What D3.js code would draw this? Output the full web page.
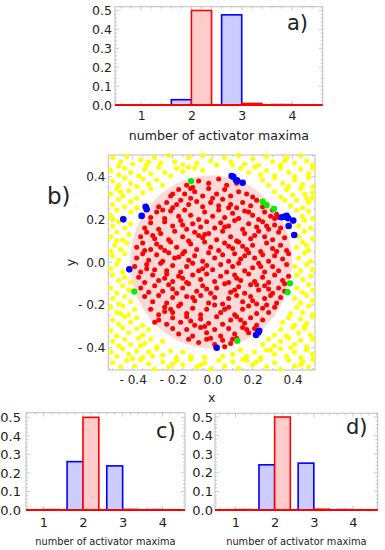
<!DOCTYPE html>
<html><head><meta charset="utf-8">
<script src="https://cdn.jsdelivr.net/npm/d3@7"></script>
<style>body{margin:0;background:#fff}svg text{font-family:"DejaVu Sans",sans-serif;fill:#222}</style>
</head><body><svg id="chart" width="385" height="550"></svg>
<script>
// ---------- DATA ----------
const categories = [1, 2, 3, 4];
const histYTicks = [0, 0.1, 0.2, 0.3, 0.4, 0.5];
const histA_blue = [0, 0.028, 0.477, 0.002];
const histA_red  = [0, 0.5, 0.008, 0];
const histC_blue = [0, 0.261, 0.238, 0.002];
const histC_red  = [0.002, 0.5, 0.003, 0];
const histD_blue = [0, 0.243, 0.252, 0.002];
const histD_red  = [0.002, 0.5, 0.004, 0];
const histXLabel = "number of activator maxima";
const scatterTicks = [-0.4, -0.2, 0, 0.2, 0.4];
const discCenter = [-0.008, 0.002];
const discRadius = 0.405;

const bluePts = [[0.095,0.404],[0.103,0.40],[0.117,0.385],[0.123,0.382],[0.15,0.372],
 [-0.335,0.26],[-0.33,0.248],[-0.355,0.217],[-0.447,0.201],[-0.417,-0.033],
 [0.345,0.211],[0.358,0.213],[0.37,0.217],[0.378,0.206],[0.403,0.195],[0.38,0.17],[0.408,0.128],
 [0.02,-0.40],[0.217,-0.34],[0.228,-0.329],[0.233,-0.32]];
const greenPts = [[-0.108,0.38],[0.25,0.284],[0.27,0.267],[0.307,0.25],[0.387,-0.098],[0.375,-0.14],[-0.392,-0.137],[0.123,-0.367]];

const redPts = [
[-0.13,0.36],[-0.07,0.38],[-0.02,0.37],[0.03,0.39],[0.07,0.36],[0.12,0.37],[-0.1,0.35],
[-0.21,0.31],[-0.17,0.34],[-0.14,0.32],[-0.09,0.33],[-0.05,0.31],[-0.02,0.345],[0.02,0.32],[0.06,0.34],[0.09,0.31],[0.13,0.33],[0.17,0.32],[0.2,0.305],[-0.11,0.3],
[-0.27,0.26],[-0.23,0.28],[-0.2,0.255],[-0.16,0.29],[-0.12,0.27],[-0.08,0.285],[-0.05,0.26],[-0.01,0.28],[0.03,0.265],[0.05,0.295],[0.09,0.27],[0.12,0.255],[0.15,0.28],[0.19,0.265],[0.22,0.29],[0.25,0.26],[-0.18,0.27],
[-0.31,0.21],[-0.28,0.235],[-0.24,0.205],[-0.21,0.24],[-0.17,0.215],[-0.14,0.245],[-0.11,0.22],[-0.07,0.2],[-0.04,0.235],[0.0,0.215],[0.03,0.245],[0.06,0.21],[0.1,0.23],[0.13,0.205],[0.16,0.24],[0.2,0.22],[0.23,0.2],[0.26,0.235],[0.29,0.215],[0.31,0.205],[0.33,0.21],[0.32,0.225],
[-0.34,0.16],[-0.31,0.185],[-0.27,0.155],[-0.24,0.19],[-0.2,0.17],[-0.16,0.195],[-0.13,0.155],[-0.1,0.18],[-0.06,0.165],[-0.03,0.19],[0.01,0.16],[0.04,0.185],[0.08,0.17],[0.11,0.195],[0.15,0.155],[0.18,0.18],[0.22,0.165],[0.25,0.19],[0.28,0.155],[0.31,0.175],[0.34,0.16],
[-0.36,0.12],[-0.33,0.14],[-0.29,0.11],[-0.26,0.135],[-0.22,0.105],[-0.19,0.145],[-0.15,0.12],[-0.12,0.1],[-0.09,0.14],[-0.05,0.115],[-0.02,0.135],[0.02,0.105],[0.05,0.145],[0.09,0.12],[0.12,0.1],[0.16,0.135],[0.19,0.11],[0.23,0.145],[0.26,0.12],[0.3,0.105],[0.33,0.14],[0.36,0.115],[-0.07,0.125],
[-0.38,0.07],[-0.35,0.09],[-0.31,0.06],[-0.28,0.085],[-0.24,0.055],[-0.21,0.095],[-0.18,0.07],[-0.14,0.05],[-0.11,0.085],[-0.08,0.06],[-0.04,0.095],[-0.01,0.07],[0.03,0.055],[0.06,0.09],[0.1,0.065],[0.13,0.095],[0.17,0.06],[0.2,0.08],[0.24,0.05],[0.27,0.09],[0.3,0.065],[0.34,0.08],[0.37,0.055],[0.15,0.075],
[-0.38,0.02],[-0.35,0.04],[-0.32,0.01],[-0.28,0.035],[-0.25,0.005],[-0.22,0.045],[-0.19,0.02],[-0.15,0.04],[-0.12,0.01],[-0.09,0.03],[-0.05,0.005],[-0.02,0.045],[0.01,0.02],[0.05,0.035],[0.08,0.005],[0.11,0.04],[0.14,0.015],[0.18,0.045],[0.21,0.02],[0.25,0.035],[0.28,0.005],[0.31,0.03],[0.35,0.015],[0.38,0.04],
[-0.39,-0.02],[-0.36,-0.045],[-0.33,-0.01],[-0.29,-0.035],[-0.26,-0.005],[-0.23,-0.04],[-0.2,-0.015],[-0.16,-0.045],[-0.13,-0.02],[-0.1,-0.005],[-0.07,-0.04],[-0.03,-0.015],[0.0,-0.035],[0.04,-0.01],[0.07,-0.045],[0.1,-0.02],[0.13,-0.005],[0.16,-0.04],[0.2,-0.025],[0.23,-0.005],[0.26,-0.045],[0.3,-0.02],[0.33,-0.04],[0.37,-0.01],
[-0.37,-0.07],[-0.34,-0.095],[-0.3,-0.06],[-0.27,-0.085],[-0.23,-0.055],[-0.2,-0.09],[-0.17,-0.065],[-0.13,-0.095],[-0.1,-0.06],[-0.06,-0.08],[-0.03,-0.055],[0.01,-0.09],[0.04,-0.065],[0.08,-0.095],[0.11,-0.06],[0.14,-0.085],[0.18,-0.055],[0.21,-0.09],[0.25,-0.07],[0.28,-0.095],[0.31,-0.06],[0.35,-0.085],[0.38,-0.065],[-0.15,-0.075],
[-0.36,-0.12],[-0.32,-0.14],[-0.29,-0.11],[-0.25,-0.135],[-0.22,-0.105],[-0.18,-0.145],[-0.15,-0.12],[-0.12,-0.1],[-0.08,-0.135],[-0.05,-0.11],[-0.01,-0.145],[0.02,-0.12],[0.06,-0.1],[0.09,-0.14],[0.13,-0.115],[0.16,-0.145],[0.19,-0.105],[0.23,-0.13],[0.26,-0.11],[0.3,-0.145],[0.33,-0.12],[0.36,-0.135],[-0.03,-0.125],
[-0.34,-0.16],[-0.3,-0.185],[-0.27,-0.155],[-0.23,-0.19],[-0.2,-0.165],[-0.16,-0.195],[-0.13,-0.16],[-0.09,-0.18],[-0.06,-0.155],[-0.02,-0.19],[0.01,-0.165],[0.05,-0.195],[0.08,-0.17],[0.12,-0.155],[0.15,-0.185],[0.19,-0.16],[0.22,-0.195],[0.26,-0.17],[0.29,-0.155],[0.32,-0.19],[0.34,-0.165],
[-0.31,-0.22],[-0.27,-0.245],[-0.24,-0.21],[-0.2,-0.235],[-0.17,-0.205],[-0.13,-0.24],[-0.1,-0.215],[-0.06,-0.245],[-0.03,-0.22],[0.01,-0.2],[0.04,-0.235],[0.08,-0.21],[0.11,-0.245],[0.15,-0.22],[0.18,-0.205],[0.22,-0.24],[0.25,-0.215],[0.28,-0.235],[0.31,-0.21],[-0.21,-0.22],
[-0.27,-0.27],[-0.23,-0.29],[-0.2,-0.26],[-0.16,-0.28],[-0.13,-0.255],[-0.09,-0.295],[-0.06,-0.265],[-0.02,-0.285],[0.02,-0.255],[0.05,-0.29],[0.09,-0.27],[0.12,-0.255],[0.16,-0.285],[0.19,-0.26],[0.22,-0.295],[0.25,-0.27],[-0.29,-0.28],
[-0.2,-0.31],[-0.17,-0.335],[-0.13,-0.315],[-0.1,-0.345],[-0.06,-0.305],[-0.03,-0.33],[0.01,-0.315],[0.04,-0.345],[0.08,-0.31],[0.11,-0.335],[0.15,-0.305],[0.18,-0.33],[0.21,-0.31],
[-0.12,-0.36],[-0.07,-0.375],[-0.03,-0.36],[0.01,-0.385],[0.05,-0.365],[0.09,-0.38],[0.12,-0.355],[0.06,-0.395],
[-0.11,0.345],[0.0,0.3],[0.08,0.255],[-0.25,0.245],[0.18,0.235],[-0.15,0.175],[0.06,0.165],[0.27,0.17],[-0.3,0.125],[-0.04,0.13],[0.21,0.125],[-0.26,0.07],[0.08,0.075],[0.32,0.05],[-0.17,0.025],[0.16,0.03],[-0.33,-0.03],[-0.05,-0.03],[0.24,-0.02],[-0.24,-0.075],[0.12,-0.075],[0.36,-0.1],[-0.2,-0.125],[0.11,-0.13],[0.28,-0.125],[-0.1,-0.165],[0.2,-0.18],[-0.24,-0.23],[0.06,-0.22],[0.27,-0.2],[-0.11,-0.275],[0.14,-0.27],[-0.04,-0.3],[0.17,-0.315],[-0.01,-0.355],[0.1,-0.36],[0.22,-0.105],[-0.34,0.055],[0.3,0.245],[-0.2,0.32]];

const yellowPts = [
[-0.5,0.49],[-0.46,0.47],[-0.43,0.495],[-0.4,0.46],[-0.36,0.48],[-0.33,0.455],[-0.29,0.49],[-0.26,0.465],[-0.22,0.5],[-0.19,0.47],[-0.15,0.455],[-0.12,0.49],[-0.08,0.465],[-0.05,0.5],[-0.01,0.475],[0.02,0.455],[0.06,0.49],[0.09,0.47],[0.13,0.5],[0.16,0.46],[0.2,0.485],[0.23,0.455],[0.27,0.495],[0.3,0.47],[0.34,0.455],[0.37,0.49],[0.41,0.465],[0.44,0.5],[0.47,0.475],[0.5,0.455],
[-0.51,0.43],[-0.47,0.41],[-0.44,0.44],[-0.41,0.42],[-0.37,0.405],[-0.34,0.435],[-0.31,0.415],[-0.27,0.445],[-0.24,0.42],[-0.21,0.405],[-0.18,0.44],[-0.15,0.425],[-0.12,0.445],[-0.09,0.44],[-0.05,0.43],[0.14,0.44],[0.18,0.42],[0.21,0.445],[0.24,0.41],[0.27,0.43],[0.31,0.405],[0.34,0.44],[0.38,0.42],[0.41,0.4],[0.44,0.435],[0.48,0.415],[0.5,0.44],
[-0.5,0.38],[-0.47,0.36],[-0.44,0.395],[-0.41,0.37],[-0.38,0.355],[-0.35,0.39],[-0.32,0.365],[-0.28,0.385],[-0.25,0.36],[0.25,0.385],[0.28,0.36],[0.31,0.395],[0.35,0.37],[0.38,0.355],[0.41,0.385],[0.45,0.365],[0.48,0.395],[0.5,0.355],
[-0.51,0.32],[-0.48,0.345],[-0.45,0.31],[-0.42,0.335],[-0.38,0.3],[-0.35,0.325],[-0.31,0.345],[0.31,0.33],[0.34,0.305],[0.37,0.34],[0.4,0.315],[0.44,0.345],[0.47,0.3],[0.5,0.325],
[-0.5,0.27],[-0.47,0.295],[-0.44,0.26],[-0.41,0.285],[-0.38,0.255],[0.36,0.29],[0.39,0.265],[0.42,0.29],[0.45,0.255],[0.48,0.28],[0.5,0.3],
[-0.51,0.22],[-0.48,0.245],[-0.45,0.21],[-0.41,0.235],[0.42,0.245],[0.45,0.215],[0.48,0.24],[0.5,0.205],[-0.5,0.2],
[-0.5,0.17],[-0.47,0.19],[-0.44,0.16],[-0.41,0.18],[0.43,0.17],[0.46,0.195],[0.49,0.16],
[-0.51,0.12],[-0.48,0.14],[-0.45,0.105],[-0.42,0.13],[0.43,0.12],[0.46,0.145],[0.5,0.11],
[-0.49,0.08],[-0.46,0.06],[-0.43,0.09],[0.42,0.07],[0.45,0.095],[0.48,0.055],[-0.51,0.05],
[-0.5,0.03],[-0.47,0.01],[-0.44,0.04],[0.43,0.02],[0.46,0.045],[0.49,0.005],
[-0.51,-0.03],[-0.48,-0.01],[-0.45,-0.045],[0.41,-0.02],[0.44,-0.04],[0.47,-0.01],[0.5,-0.035],
[-0.5,-0.06],[-0.47,-0.085],[-0.44,-0.07],[-0.41,-0.095],[0.42,-0.06],[0.45,-0.08],[0.49,-0.065],
[-0.51,-0.12],[-0.48,-0.145],[-0.45,-0.11],[-0.42,-0.13],[0.42,-0.12],[0.45,-0.14],[0.48,-0.105],[0.5,-0.13],
[-0.5,-0.17],[-0.47,-0.195],[-0.44,-0.16],[-0.41,-0.185],[0.41,-0.17],[0.44,-0.19],[0.47,-0.155],[0.5,-0.18],
[-0.51,-0.21],[-0.48,-0.235],[-0.45,-0.205],[-0.42,-0.245],[-0.39,-0.22],[0.39,-0.24],[0.42,-0.21],[0.45,-0.235],[0.48,-0.205],[0.5,-0.245],
[-0.5,-0.27],[-0.47,-0.29],[-0.44,-0.255],[-0.41,-0.28],[-0.38,-0.26],[-0.35,-0.295],[0.35,-0.28],[0.38,-0.26],[0.41,-0.295],[0.44,-0.265],[0.47,-0.285],[0.5,-0.255],
[-0.51,-0.32],[-0.48,-0.345],[-0.45,-0.305],[-0.42,-0.33],[-0.38,-0.31],[-0.35,-0.34],[-0.32,-0.315],[0.31,-0.34],[0.34,-0.315],[0.37,-0.345],[0.4,-0.305],[0.43,-0.33],[0.46,-0.31],[0.49,-0.34],
[-0.5,-0.37],[-0.47,-0.39],[-0.44,-0.36],[-0.41,-0.385],[-0.37,-0.355],[-0.34,-0.38],[-0.31,-0.36],[-0.28,-0.395],[-0.25,-0.37],[0.25,-0.385],[0.28,-0.36],[0.31,-0.39],[0.34,-0.37],[0.38,-0.355],[0.41,-0.385],[0.44,-0.365],[0.47,-0.395],[0.5,-0.36],
[-0.51,-0.42],[-0.48,-0.44],[-0.45,-0.405],[-0.42,-0.43],[-0.38,-0.415],[-0.35,-0.445],[-0.32,-0.42],[-0.28,-0.405],[-0.25,-0.435],[-0.21,-0.415],[-0.18,-0.445],[-0.15,-0.42],[-0.11,-0.44],[0.1,-0.43],[0.14,-0.41],[0.17,-0.44],[0.21,-0.42],[0.24,-0.445],[0.27,-0.41],[0.31,-0.43],[0.34,-0.405],[0.37,-0.44],[0.41,-0.42],[0.44,-0.445],[0.47,-0.41],[0.5,-0.43],[-0.04,-0.445],[0.05,-0.44],
[-0.5,-0.47],[-0.46,-0.49],[-0.43,-0.46],[-0.39,-0.485],[-0.36,-0.455],[-0.32,-0.475],[-0.29,-0.5],[-0.25,-0.465],[-0.22,-0.49],[-0.18,-0.46],[-0.15,-0.48],[-0.11,-0.455],[-0.08,-0.49],[-0.04,-0.47],[-0.01,-0.5],[0.03,-0.46],[0.06,-0.485],[0.1,-0.465],[0.13,-0.495],[0.17,-0.46],[0.2,-0.48],[0.24,-0.455],[0.27,-0.49],[0.31,-0.47],[0.34,-0.5],[0.38,-0.46],[0.41,-0.485],[0.45,-0.465],[0.48,-0.49],[0.5,-0.455],
[-0.47,0.45],[-0.32,0.47],[0.1,0.455],[0.36,0.475],[-0.46,0.33],[0.46,0.32],[-0.48,0.1],[0.47,0.08],[-0.46,-0.24],[0.46,-0.3],[-0.4,-0.45],[-0.2,-0.475],[0.22,-0.465],[0.44,-0.48],[-0.06,-0.48],[0.15,-0.455],[-0.3,-0.44],[0.39,-0.4],[-0.36,-0.39],[0.29,-0.41]];

// ---------- DRAWING ----------
const svg = d3.select("#chart");
const FRAME = "#bdbdbd";
const BLUE = "#0000ff", BLUEFILL = "#ccccff", RED = "#ff0000", REDFILL = "#ffcccc";

function frameTicks(g, x, y, xMajor, xMinor, yMajor, yMinor) {
  const [xl, xr] = x.range(), [yb, yt] = y.range();
  const t = g.append("g").attr("stroke", FRAME).attr("stroke-width", 0.8);
  const add = (x1, y1, x2, y2) => t.append("line").attr("x1", x1).attr("y1", y1).attr("x2", x2).attr("y2", y2);
  xMajor.forEach(v => { add(x(v), yb, x(v), yb - 4); add(x(v), yt, x(v), yt + 4); });
  xMinor.forEach(v => { add(x(v), yb, x(v), yb - 2); add(x(v), yt, x(v), yt + 2); });
  yMajor.forEach(v => { add(xl, y(v), xl + 4, y(v)); add(xr, y(v), xr - 4, y(v)); });
  yMinor.forEach(v => { add(xl, y(v), xl + 2, y(v)); add(xr, y(v), xr - 2, y(v)); });
  g.append("rect").attr("x", xl).attr("y", yt).attr("width", xr - xl).attr("height", yb - yt)
    .attr("fill", "none").attr("stroke", FRAME).attr("stroke-width", 1);
}

function range(a, b, s) { const r = []; for (let v = a; v <= b + 1e-9; v += s) r.push(+v.toFixed(4)); return r; }

function histogram(o) {
  const g = svg.append("g");
  const x = d3.scaleLinear().domain(o.xDomain).range([o.left, o.right]);
  const y = d3.scaleLinear().domain([0, o.yMax]).range([o.bottom, o.top]);
  frameTicks(g, x, y, categories, range(0.6, 4.6, 0.2).filter(v => !categories.includes(v) && v > o.xDomain[0] && v < o.xDomain[1]),
    histYTicks, range(0.02, 0.5, 0.02).filter(v => !histYTicks.some(t => Math.abs(t - v) < 1e-6)));
  g.selectAll(".b").data(o.blue.map((v, i) => ({ c: categories[i], v }))).join("rect")
    .attr("x", d => x(d.c - 0.4)).attr("width", d => x(d.c) - x(d.c - 0.4))
    .attr("y", d => y(d.v)).attr("height", d => y(0) - y(d.v))
    .attr("fill", BLUEFILL).attr("stroke", BLUE).attr("stroke-width", 1.6);
  g.selectAll(".r").data(o.red.map((v, i) => ({ c: categories[i], v }))).join("rect")
    .attr("x", d => x(d.c)).attr("width", d => x(d.c + 0.4) - x(d.c))
    .attr("y", d => y(d.v)).attr("height", d => y(0) - y(d.v))
    .attr("fill", REDFILL).attr("stroke", RED).attr("stroke-width", 1.6);
  g.append("line").attr("x1", o.left).attr("x2", o.right).attr("y1", y(0)).attr("y2", y(0))
    .attr("stroke", RED).attr("stroke-width", 1.8);
  const ya = d3.axisLeft(y).tickValues(histYTicks).tickSize(0).tickPadding(o.yPad).tickFormat(d3.format(".1f"));
  const ga = g.append("g").attr("transform", `translate(${o.left},0)`).call(ya);
  ga.select(".domain").remove();
  ga.selectAll("text").style("font-size", o.fs + "px").attr("fill", "#222");
  const xa = d3.axisBottom(x).tickValues(categories).tickSize(0).tickPadding(o.xPad).tickFormat(d3.format("d"));
  const gx = g.append("g").attr("transform", `translate(0,${o.bottom})`).call(xa);
  gx.select(".domain").remove();
  gx.selectAll("text").style("font-size", o.fs + "px").attr("fill", "#222");
  g.append("text").attr("x", (o.left + o.right) / 2).attr("y", o.bottom + o.titleDy)
    .attr("text-anchor", "middle").style("font-size", o.tfs + "px").text(histXLabel);
  g.append("text").attr("x", o.labX).attr("y", o.labY).style("font-size", "21px").text(o.label);
}

histogram({ left: 115, right: 322.7, top: 6.7, bottom: 105, xDomain: [0.48, 4.61], yMax: 0.52,
  blue: histA_blue, red: histA_red, fs: 12.5, tfs: 12.6, titleDy: 34.5, yPad: 3, xPad: 6,
  label: "a)", labX: 287, labY: 30 });
histogram({ left: 26, right: 185, top: 412.7, bottom: 510, xDomain: [0.564, 4.572], yMax: 0.525,
  blue: histC_blue, red: histC_red, fs: 13, tfs: 9.8, titleDy: 35, yPad: 5, xPad: 8,
  label: "c)", labX: 156, labY: 438 });
histogram({ left: 215, right: 377.7, top: 413.3, bottom: 510, xDomain: [0.478, 4.63], yMax: 0.52,
  blue: histD_blue, red: histD_red, fs: 13, tfs: 9.8, titleDy: 35, yPad: 2, xPad: 8,
  label: "d)", labX: 346, labY: 434 });

(function () {
  const g = svg.append("g");
  const left = 108.3, right = 315, top = 155, bottom = 370;
  const x = d3.scaleLinear().domain([-0.522, 0.512]).range([left, right]);
  const y = d3.scaleLinear().domain([-0.504, 0.502]).range([bottom, top]);
  g.append("ellipse").attr("cx", x(discCenter[0])).attr("cy", y(discCenter[1]))
    .attr("rx", x(discRadius) - x(0)).attr("ry", y(0) - y(discRadius)).attr("fill", "#ffd8d8");
  frameTicks(g, x, y, scatterTicks, range(-0.5, 0.5, 0.05).filter(v => !scatterTicks.some(t => Math.abs(t - v) < 1e-6)),
    scatterTicks, range(-0.5, 0.5, 0.05).filter(v => !scatterTicks.some(t => Math.abs(t - v) < 1e-6)));
  const dots = (data, r, c) => g.append("g").selectAll("circle").data(data).join("circle")
    .attr("cx", d => x(d[0])).attr("cy", d => y(d[1])).attr("r", r).attr("fill", c);
  dots(yellowPts, 2.5, "#ffff00");
  dots(redPts, 2.5, "#ff0000");
  dots(greenPts, 3.1, "#00ee00");
  dots(bluePts, 3.3, "#0000ff");
  const fmt = d => d < 0 ? "- " + Math.abs(d).toFixed(1) : d.toFixed(1);
  const ya = g.append("g").attr("transform", `translate(${left},0)`)
    .call(d3.axisLeft(y).tickValues(scatterTicks).tickSize(0).tickPadding(3).tickFormat(fmt));
  ya.select(".domain").remove();
  ya.selectAll("text").style("font-size", "12px").attr("fill", "#222");
  const xa = g.append("g").attr("transform", `translate(0,${bottom})`)
    .call(d3.axisBottom(x).tickValues(scatterTicks).tickSize(0).tickPadding(5).tickFormat(fmt));
  xa.select(".domain").remove();
  xa.selectAll("text").style("font-size", "12px").attr("fill", "#222");
  g.append("text").attr("x", (left + right) / 2).attr("y", 402).attr("text-anchor", "middle").style("font-size", "12.5px").text("x");
  g.append("text").attr("transform", `translate(75,${(top + bottom) / 2}) rotate(-90)`).attr("text-anchor", "middle").style("font-size", "12.5px").text("y");
  g.append("text").attr("x", 47).attr("y", 204).style("font-size", "23px").text("b)");
})();
</script></body></html>
